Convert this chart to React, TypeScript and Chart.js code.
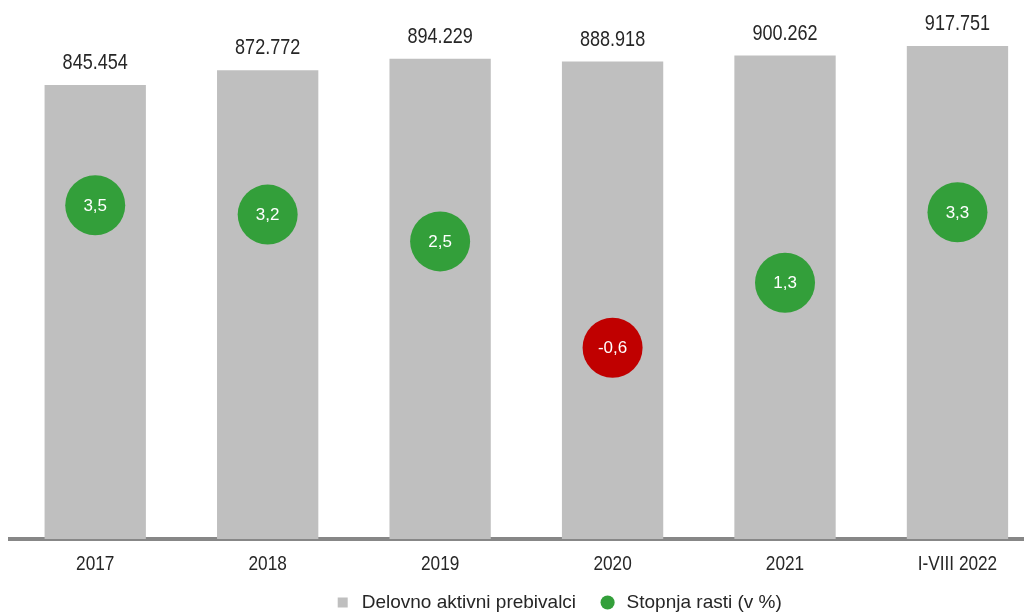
import React, { useEffect, useRef } from "react";
import { Chart, registerables } from "chart.js";

Chart.register(...registerables);

const categories = ["2017", "2018", "2019", "2020", "2021", "I-VIII 2022"];
const workers = [845454, 872772, 894229, 888918, 900262, 917751];
const growth = [3.5, 3.23, 2.46, -0.6, 1.27, 3.3];
const seriesNames = ["Delovno aktivni prebivalci", "Stopnja rasti (v %)"];

const FONT = "'Liberation Sans', Arial, sans-serif";
const NARROW = 0.82;
const BAR_COLOR = "#bfbfbf";
const GREEN = "#339f3a";
const RED = "#c00000";
const TEXT = "#262626";

const fmtThousands = (v: number) => String(Math.round(v)).replace(/\B(?=(\d{3})+(?!\d))/g, ".");
const fmtPct = (v: number) => v.toFixed(1).replace(".", ",");

function narrowText(ctx: CanvasRenderingContext2D, text: string, x: number, y: number) {
  ctx.save();
  ctx.translate(x, y);
  ctx.scale(NARROW, 1);
  ctx.fillText(text, 0, 0);
  ctx.restore();
}

const labelsPlugin = {
  id: "valueLabels",
  afterDatasetsDraw(chart: any) {
    const ctx = chart.ctx;
    ctx.save();
    ctx.textAlign = "center";
    ctx.textBaseline = "middle";
    // values above the bars
    const barMeta = chart.getDatasetMeta(1);
    ctx.fillStyle = TEXT;
    ctx.font = `22px ${FONT}`;
    barMeta.data.forEach((el: any, i: number) => {
      narrowText(ctx, fmtThousands(workers[i]), el.x, el.y - 22);
    });
    // category labels under the axis
    const xs = chart.scales.x;
    ctx.font = `21px ${FONT}`;
    categories.forEach((c, i) => {
      narrowText(ctx, c, xs.getPixelForTick(i), chart.chartArea.bottom + 25);
    });
    // growth labels inside the circles
    const ptMeta = chart.getDatasetMeta(0);
    ctx.fillStyle = "#ffffff";
    ctx.font = `17px ${FONT}`;
    ptMeta.data.forEach((el: any, i: number) => {
      ctx.fillText(fmtPct(growth[i]), el.x, el.y + 1);
    });
    ctx.restore();
  },
};

export default function App() {
  const ref = useRef<HTMLCanvasElement | null>(null);

  useEffect(() => {
    if (!ref.current) return;
    const chart = new Chart(ref.current, {
      type: "bar",
      data: {
        labels: categories,
        datasets: [
          {
            type: "line",
            label: seriesNames[1],
            data: growth,
            yAxisID: "y2",
            showLine: false,
            pointRadius: 30,
            pointHoverRadius: 30,
            pointBorderWidth: 0,
            pointBackgroundColor: growth.map((v) => (v < 0 ? RED : GREEN)),
            pointBorderColor: growth.map((v) => (v < 0 ? RED : GREEN)),
            order: 0,
          } as any,
          {
            type: "bar",
            label: seriesNames[0],
            data: workers,
            yAxisID: "y",
            backgroundColor: BAR_COLOR,
            barPercentage: 0.5875,
            categoryPercentage: 1,
            order: 1,
          },
        ],
      },
      options: {
        responsive: false,
        animation: false,
        layout: { autoPadding: false, padding: { top: 6, left: 1, right: 0, bottom: 0 } },
        plugins: {
          tooltip: { enabled: false },
          legend: {
            position: "bottom",
            labels: {
              usePointStyle: true,
              boxHeight: 10,
              padding: 22,
              color: TEXT,
              font: { family: FONT, size: 19 },
              generateLabels: () => [
                {
                  text: seriesNames[0],
                  fillStyle: BAR_COLOR,
                  strokeStyle: BAR_COLOR,
                  lineWidth: 0,
                  pointStyle: "rect",
                  hidden: false,
                  datasetIndex: 1,
                  fontColor: TEXT,
                },
                {
                  text: seriesNames[1],
                  fillStyle: GREEN,
                  strokeStyle: GREEN,
                  lineWidth: 0,
                  pointStyle: "circle",
                  hidden: false,
                  datasetIndex: 0,
                  fontColor: TEXT,
                },
              ],
            },
          },
        },
        scales: {
          x: {
            offset: true,
            z: 1,
            grid: { display: false, drawTicks: false },
            border: { display: true, color: "#878787", width: 4 },
            ticks: { display: false },
            afterFit: (s: any) => {
              s.height = 32;
            },
          },
          y: {
            display: false,
            min: 0,
            max: 977500,
          },
          y2: {
            position: "right",
            display: true,
            min: -6.1,
            max: 9,
            ticks: { display: false },
            grid: { display: false },
            border: { display: false },
            afterFit: (s: any) => {
              s.width = 62.3;
            },
          },
        } as any,
      },
      plugins: [labelsPlugin],
    });
    return () => chart.destroy();
  }, []);

  return (
    <div style={{ width: 1024, height: 606, overflow: "hidden", position: "relative" }}>
      <canvas ref={ref} width={1098} height={614} style={{ display: "block", width: 1098, height: 614 }} />
    </div>
  );
}
